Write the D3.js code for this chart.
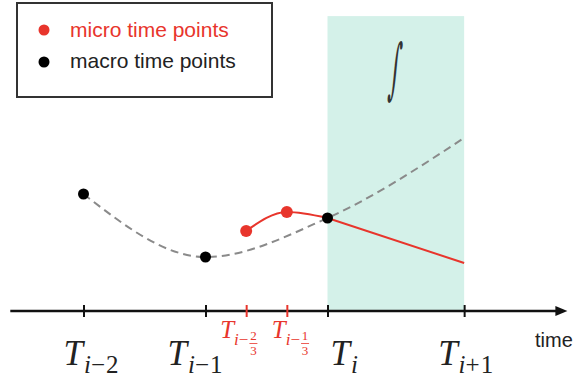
<!DOCTYPE html>
<html><head><meta charset="utf-8">
<script src="https://cdn.jsdelivr.net/npm/d3@7"></script>
<style>html,body{margin:0;padding:0;background:#fff;} svg{display:block;}</style>
</head><body>
<svg id="chart" width="583" height="381"></svg>
<script>
// Time is measured in macro steps, with T_i at 0.
const macroTimes = [-2, -1, 0, 1.12];
const macroSubs = [["i", "−2"], ["i", "−1"], ["i", ""], ["i", "+1"]];
const microTimes = [-2/3, -1/3];
const microFractions = [["2", "3"], ["1", "3"]];

// Coarse (macro) trajectory, dashed grey
const macroPathTimes = [-2, -1, 0, 1.12];
const macroPathValues = [3.9, 1.8, 3.1, 5.77];
const macroDotTimes = [-2, -1, 0];
const macroDotValues = [3.9, 1.8, 3.1];

// Fine (micro) trajectory, red: smooth up to T_i, straight afterwards
const microPathTimes = [-2/3, -1/3, 0, 1.12];
const microPathValues = [2.67, 3.3, 3.1, 1.6];
const microDotTimes = [-2/3, -1/3];
const microDotValues = [2.67, 3.3];

// Integration window [T_i, T_{i+1}]
const windowTimes = [0, 1.12];
const windowTop = 9.83;

const legendLabels = ["micro time points", "macro time points"];
const axisTitle = "time";

const RED = "#e8352c";
const GREY = "#8a8a8a";
const MINT = "#d4f1e9";

const svg = d3.select("#chart");
const x = d3.scaleLinear().domain([-2.6, 1.95]).range([10.3, 565.4]);
const y = d3.scaleLinear().domain([0, 10]).range([311, 11]);

// shaded integration window
svg.append("rect")
  .attr("x", x(windowTimes[0])).attr("y", y(windowTop))
  .attr("width", x(windowTimes[1]) - x(windowTimes[0]))
  .attr("height", y(0) - y(windowTop))
  .attr("fill", MINT);

// integral symbol in the window, drawn tall and narrow
const intCx = x(windowTimes[0]) + 66;
svg.append("text")
  .attr("transform", `translate(${intCx},91) skewX(-5) scale(0.5,1.5)`)
  .attr("text-anchor", "middle")
  .attr("font-family", "DejaVu Serif")
  .attr("font-size", 44)
  .attr("fill", "#333")
  .text("∫");

// time axis
const axisY = y(0);
svg.append("line")
  .attr("x1", x.range()[0]).attr("x2", x.range()[1] - 6)
  .attr("y1", axisY).attr("y2", axisY)
  .attr("stroke", "#111").attr("stroke-width", 2.5);
const tipX = x.range()[1] + 2;
svg.append("path")
  .attr("d", `M${tipX},${axisY} L${tipX - 12},${axisY - 5} L${tipX - 12},${axisY + 5} Z`)
  .attr("fill", "#111");

const macroAxis = svg.append("g").attr("transform", `translate(0,${axisY - 6})`)
  .call(d3.axisBottom(x).tickValues(macroTimes).tickSize(12).tickFormat(""));
macroAxis.select(".domain").remove();
macroAxis.selectAll(".tick line").attr("stroke", "#111").attr("stroke-width", 2);

const microAxis = svg.append("g").attr("transform", `translate(0,${axisY - 6})`)
  .call(d3.axisBottom(x).tickValues(microTimes).tickSize(12).tickFormat(""));
microAxis.select(".domain").remove();
microAxis.selectAll(".tick line").attr("stroke", RED).attr("stroke-width", 2);

// macro tick labels: T with subscript
const macroNudge = [-20, -38, 3, -26];
macroTimes.forEach((t, k) => {
  const txt = svg.append("text")
    .attr("x", x(t) + macroNudge[k]).attr("y", 365)
    .attr("font-family", "Liberation Serif").attr("fill", "#222");
  txt.append("tspan").attr("font-size", 35).attr("font-style", "italic").text("T");
  txt.append("tspan").attr("font-size", 25).attr("font-style", "italic").attr("dy", 8).attr("dx", 1).text(macroSubs[k][0]);
  if (macroSubs[k][1]) txt.append("tspan").attr("font-size", 25).attr("letter-spacing", 1).text(macroSubs[k][1]);
});

// micro tick labels: T with fractional subscript
const microNudge = [-26, -15];
microTimes.forEach((t, k) => {
  const g = svg.append("g").attr("fill", RED).attr("font-family", "Liberation Serif");
  const txt = g.append("text").attr("x", x(t) + microNudge[k]).attr("y", 338);
  txt.append("tspan").attr("font-size", 25).attr("font-style", "italic").text("T");
  txt.append("tspan").attr("font-size", 17).attr("font-style", "italic").attr("dy", 7).text("i");
  txt.append("tspan").attr("font-size", 17).text("−");
  const bb = txt.node().getBBox();
  const fx = bb.x + bb.width + 5;
  g.append("text").attr("x", fx).attr("y", 340).attr("text-anchor", "middle")
    .attr("font-size", 13).text(microFractions[k][0]);
  g.append("line").attr("x1", fx - 4).attr("x2", fx + 4).attr("y1", 343.5).attr("y2", 343.5)
    .attr("stroke", RED).attr("stroke-width", 0.8);
  g.append("text").attr("x", fx).attr("y", 355).attr("text-anchor", "middle")
    .attr("font-size", 13).text(microFractions[k][1]);
});

// axis title
svg.append("text")
  .attr("x", 535).attr("y", 347)
  .attr("font-family", "Liberation Sans").attr("font-size", 20).attr("fill", "#222")
  .text(axisTitle);

// trajectories
const lineGen = d3.line().x(d => x(d[0])).y(d => y(d[1])).curve(d3.curveMonotoneX);
svg.append("path")
  .datum(d3.zip(macroPathTimes, macroPathValues))
  .attr("d", lineGen)
  .attr("fill", "none").attr("stroke", GREY).attr("stroke-width", 2)
  .attr("stroke-dasharray", "8,5");

const microPts = d3.zip(microPathTimes, microPathValues);
const microSmooth = microPts.filter(d => d[0] <= 0);
const microStraight = microPts.filter(d => d[0] >= 0);
svg.append("path")
  .attr("d", lineGen(microSmooth) + d3.line().x(d => x(d[0])).y(d => y(d[1]))(microStraight).replace(/^M/, "L"))
  .attr("fill", "none").attr("stroke", RED).attr("stroke-width", 2);

svg.selectAll(".micro-dot")
  .data(d3.zip(microDotTimes, microDotValues))
  .join("circle").attr("class", "micro-dot")
  .attr("cx", d => x(d[0])).attr("cy", d => y(d[1])).attr("r", 6)
  .attr("fill", RED);

svg.selectAll(".macro-dot")
  .data(d3.zip(macroDotTimes, macroDotValues))
  .join("circle").attr("class", "macro-dot")
  .attr("cx", d => x(d[0])).attr("cy", d => y(d[1])).attr("r", 5.5)
  .attr("fill", "#000");

// legend
const legend = svg.append("g");
legend.append("rect")
  .attr("x", 17).attr("y", 3).attr("width", 255).attr("height", 94)
  .attr("fill", "#fff").attr("stroke", "#333").attr("stroke-width", 2);
const legendColors = [RED, "#000"];
const legendText = [RED, "#222"];
legendLabels.forEach((lab, k) => {
  legend.append("circle").attr("cx", 44).attr("cy", 30 + k * 32).attr("r", 5.5).attr("fill", legendColors[k]);
  legend.append("text").attr("x", 70).attr("y", 37 + k * 31)
    .attr("font-family", "Liberation Sans").attr("font-size", 21).attr("fill", legendText[k])
    .text(lab);
});
</script>
</body></html>
